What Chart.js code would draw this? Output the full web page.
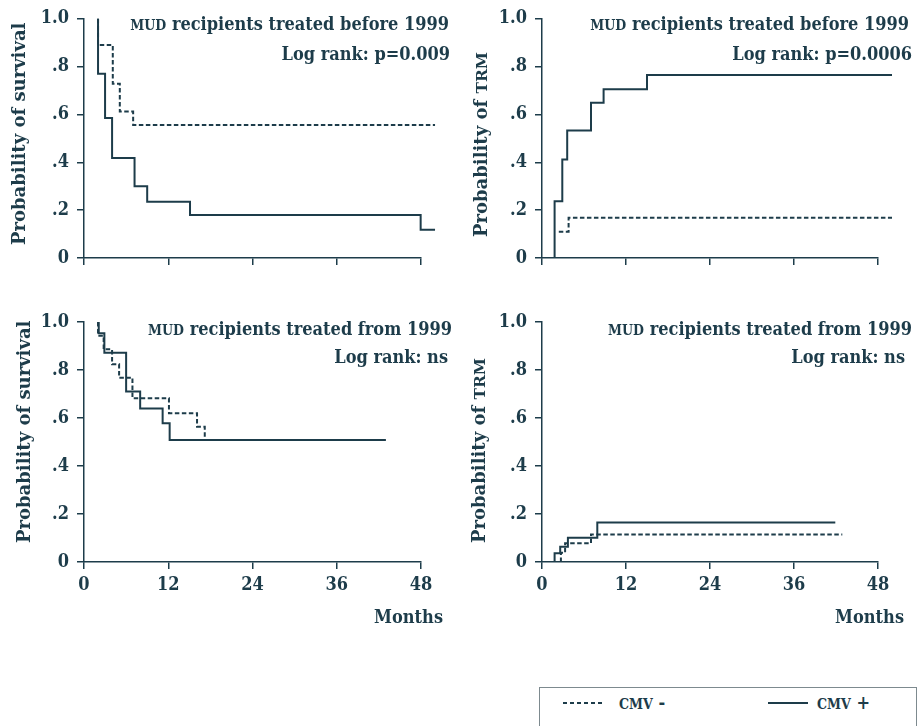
<!DOCTYPE html>
<html>
<head>
<meta charset="utf-8">
<script src="https://cdn.jsdelivr.net/npm/chart.js@4.4.1/dist/chart.umd.min.js"></script>
<style>
  body { margin: 0; background: #fff; }
  #page { position: relative; width: 918px; height: 726px; overflow: hidden;
          font-family: "DejaVu Serif Condensed", "DejaVu Serif", serif; font-weight: bold; color: #1d3c4a; }
  canvas { position: absolute; }
  .t { position: absolute; white-space: nowrap; font-size: 18px; line-height: 1; }
  .sc { font-size: 0.78em; }
  .ytitle { position: absolute; white-space: nowrap; font-size: 18px; line-height: 1;
            font-family: "DejaVu Serif", serif;
            transform-origin: 0 0; transform: rotate(-90deg); }
  .ytitle .sc { font-size: 0.86em; }
  #legend { position: absolute; left: 539px; top: 687px; width: 378px; height: 60px;
            border: 1px solid #7d8a8f; box-sizing: border-box; }
  .dash { position: absolute; height: 2px;
          background: repeating-linear-gradient(90deg, #1d3c4a 0 4px, transparent 4px 7px); }
  .solid { position: absolute; height: 2px; background: #1d3c4a; }
</style>
</head>
<body>
<div id="page">
  <canvas id="c1" width="459" height="300" style="left:0;top:0"></canvas>
  <canvas id="c2" width="459" height="300" style="left:459px;top:0"></canvas>
  <canvas id="c3" width="459" height="326" style="left:0;top:300px"></canvas>
  <canvas id="c4" width="459" height="326" style="left:459px;top:300px"></canvas>

  <div class="t" style="right:469px;top:14.8px"><span class="sc">MUD</span> recipients treated before 1999</div>
  <div class="t" style="right:468px;top:44.8px">Log rank: p=0.009</div>
  <div class="t" style="right:9px;top:14.8px"><span class="sc">MUD</span> recipients treated before 1999</div>
  <div class="t" style="right:6px;top:44.8px">Log rank: p=0.0006</div>
  <div class="t" style="right:466px;top:319.8px"><span class="sc">MUD</span> recipients treated from 1999</div>
  <div class="t" style="right:470px;top:347.8px">Log rank: ns</div>
  <div class="t" style="right:6px;top:319.8px"><span class="sc">MUD</span> recipients treated from 1999</div>
  <div class="t" style="right:13px;top:347.8px">Log rank: ns</div>

  <div class="ytitle" style="left:9.8px;top:245px">Probability of survival</div>
  <div class="ytitle" style="left:471.8px;top:237px">Probability of <span class="sc">TRM</span></div>
  <div class="ytitle" style="left:14.5px;top:543px">Probability of survival</div>
  <div class="ytitle" style="left:470.1px;top:543px">Probability of <span class="sc">TRM</span></div>

  <div class="t" style="right:475px;top:608.3px">Months</div>
  <div class="t" style="right:14px;top:608.3px">Months</div>

  <div id="legend"></div>
  <div class="dash" style="left:563px;top:702px;width:42px"></div>
  <div class="t" style="left:619px;top:693.8px"><span class="sc">CMV</span> -</div>
  <div class="solid" style="left:768px;top:702px;width:40px"></div>
  <div class="t" style="left:817px;top:693.8px"><span class="sc">CMV</span> +</div>
</div>

<script>
// tick labels
const monthTicks = ['0', '12', '24', '36', '48'];
const probTicks = ['0', '.2', '.4', '.6', '.8', '1.0'];

// survival, MUD treated before 1999
const survBeforeNegMonths = [2, 2, 4.1, 5.1, 7, 50];
const survBeforeNegProb   = [1, 0.89, 0.728, 0.612, 0.556, 0.556];
const survBeforePosMonths = [2, 2, 3, 4, 7.2, 9, 15.1, 47.95, 50];
const survBeforePosProb   = [1, 0.77, 0.585, 0.418, 0.30, 0.235, 0.18, 0.118, 0.118];

// TRM, MUD treated before 1999
const trmBeforeNegMonths = [2.4, 3.8, 50];
const trmBeforeNegProb   = [0.11, 0.168, 0.168];
const trmBeforePosMonths = [1.8, 1.8, 2.9, 3.6, 7.0, 8.8, 15.0, 50];
const trmBeforePosProb   = [0, 0.237, 0.412, 0.533, 0.649, 0.705, 0.765, 0.765];

// survival, MUD treated from 1999
const survFromNegMonths = [2, 2, 2.8, 4.0, 5.0, 6.9, 12.1, 16.1, 17.2];
const survFromNegProb   = [1, 0.943, 0.886, 0.824, 0.768, 0.682, 0.62, 0.564, 0.508];
const survFromPosMonths = [2.1, 2.1, 2.9, 6.0, 8.0, 11.2, 12.2, 43];
const survFromPosProb   = [1, 0.953, 0.872, 0.71, 0.64, 0.578, 0.508, 0.508];

// TRM, MUD treated from 1999
const trmFromNegMonths = [2.7, 2.7, 3.3, 7.0, 42.9];
const trmFromNegProb   = [0, 0.039, 0.078, 0.115, 0.115];
const trmFromPosMonths = [1.8, 1.8, 2.6, 3.7, 7.9, 41.9];
const trmFromPosProb   = [0, 0.036, 0.064, 0.101, 0.165, 0.165];

const ink = '#1d3c4a';
const tickFont = { family: '"DejaVu Serif Condensed", "DejaVu Serif", serif', size: 18, weight: 'bold' };

function pts(months, probs) {
  return months.map((m, i) => ({ x: m, y: probs[i] }));
}

function curve(months, probs, dashed) {
  return {
    data: pts(months, probs),
    borderColor: ink,
    borderWidth: 2,
    borderDash: dashed ? [4.5, 2.5] : [],
    pointRadius: 0,
    stepped: true,
    fill: false,
    clip: false
  };
}

// area = [left, top, right, bottom] in canvas pixels
function panel(id, area, negM, negP, posM, posP, showMonths) {
  const cv = document.getElementById(id);
  const [left, top, right, bottom] = area;
  new Chart(cv, {
    type: 'line',
    data: { datasets: [curve(negM, negP, true), curve(posM, posP, false)] },
    options: {
      responsive: false,
      animation: false,
      events: [],
      layout: { padding: { left: 0, top: top, right: cv.width - right, bottom: 0 } },
      plugins: { legend: { display: false }, tooltip: { enabled: false } },
      scales: {
        x: {
          type: 'linear', min: 0, max: 48,
          afterBuildTicks: s => { s.ticks = monthTicks.map(v => ({ value: +v })); },
          ticks: { display: showMonths, color: ink, font: tickFont, padding: 6,
                   maxRotation: 0, callback: (v, i) => monthTicks[i] },
          grid: { drawOnChartArea: false, drawTicks: true, tickLength: 7, color: ink, lineWidth: 1.5 },
          border: { display: true, color: ink, width: 1.5 },
          afterFit: s => { s.height = cv.height - bottom; }
        },
        y: {
          type: 'linear', min: 0, max: 1,
          afterBuildTicks: s => { s.ticks = probTicks.map((v, i) => ({ value: i * 0.2 })); },
          ticks: { color: ink, font: tickFont, padding: 8, callback: (v, i) => probTicks[i] },
          grid: { drawOnChartArea: false, drawTicks: true, tickLength: 7, color: ink, lineWidth: 1.5 },
          border: { display: true, color: ink, width: 1.5 },
          afterFit: s => { s.width = left; }
        }
      }
    }
  });
}

panel('c1', [84, 18, 421, 258], survBeforeNegMonths, survBeforeNegProb, survBeforePosMonths, survBeforePosProb, false);
panel('c2', [83, 18, 419, 258], trmBeforeNegMonths, trmBeforeNegProb, trmBeforePosMonths, trmBeforePosProb, false);
panel('c3', [84, 22, 421, 262], survFromNegMonths, survFromNegProb, survFromPosMonths, survFromPosProb, true);
panel('c4', [83, 22, 419, 262], trmFromNegMonths, trmFromNegProb, trmFromPosMonths, trmFromPosProb, true);
</script>
</body>
</html>
